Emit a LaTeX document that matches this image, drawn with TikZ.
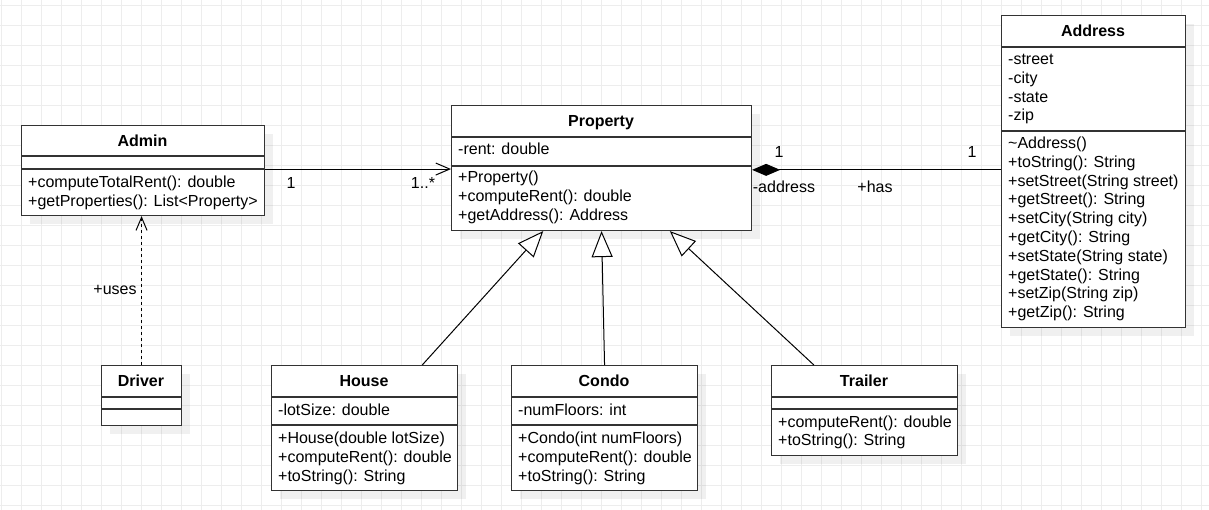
\documentclass[tikz,border=0pt]{standalone}
\usepackage{fontspec}
\setmainfont{Liberation Sans}
\usetikzlibrary{arrows.meta,shadows,calc}
\begin{document}
\begin{tikzpicture}[x=1pt,y=-1pt,
  gridline/.style={draw=black!7, line width=0.8pt},
  classbox/.style={draw=black!80, line width=1.1pt, fill=white, rectangle, inner sep=0pt, anchor=north west,
    drop shadow={shadow xshift=8pt, shadow yshift=-8pt, opacity=0.06, fill=black}},
  sepline/.style={draw=black!80, line width=1.1pt},
  title/.style={font=\fontsize{16}{19}\selectfont\bfseries, inner sep=0pt, text height=14.5pt, text depth=3.4pt},
  member/.style={font=\fontsize{16}{19}\selectfont, anchor=west, inner sep=0pt, text height=14.5pt, text depth=3.4pt},
  lbl/.style={font=\fontsize{16}{19}\selectfont, inner sep=0pt, text height=14.5pt, text depth=3.4pt},
  conn/.style={draw=black, line width=1pt},
  assoc/.style={conn, -{Straight Barb[length=14pt,width=12pt,line width=1pt]}},
  dep/.style={conn, line width=1.2pt, dash pattern=on 3pt off 3pt, -{Straight Barb[length=13pt,width=11pt,line width=1pt]}},
  inherit/.style={conn, -{Triangle[open,length=26pt,width=21pt,fill=white,line width=1pt]}},
  compos/.style={conn, {Diamond[length=28pt,width=12pt]}-}
]
\useasboundingbox (0,0) rectangle (1209,510);
\fill[white] (0,0) rectangle (1209,510);
% grid
\foreach \x in {1,21,...,1201} \draw[gridline] (\x,0) -- (\x,510);
\foreach \y in {5,25,...,505} \draw[gridline] (0,\y) -- (1209,\y);

% Admin
\node[classbox, minimum width=243pt, minimum height=90pt] (admin) at (21,125) {};
\draw[sepline] ([yshift=-31pt]admin.north west) -- ([yshift=-31pt]admin.north east);
\draw[sepline] ([yshift=-44pt]admin.north west) -- ([yshift=-44pt]admin.north east);
\node[title] (admint) at (142.5,140.5) {Admin};
\foreach \t [count=\i from 0] in {+computeTotalRent(): double, +getProperties(): List<Property>}
  \node[member] (adm\i) at (28,182+18.8*\i) {\t};

% Property
\node[classbox, minimum width=300pt, minimum height=125pt] (property) at (451,105) {};
\draw[sepline] ([yshift=-32pt]property.north west) -- ([yshift=-32pt]property.north east);
\draw[sepline] ([yshift=-61pt]property.north west) -- ([yshift=-61pt]property.north east);
\node[title] (propt) at (601,121) {Property};
\node[member] (propa0) at (458,148.5) {-rent: double};
\foreach \t [count=\i from 0] in {+Property(), +computeRent(): double, +getAddress(): Address}
  \node[member] (prop\i) at (458,177+18.8*\i) {\t};

% Address
\node[classbox, minimum width=184pt, minimum height=312pt] (address) at (1001,15) {};
\draw[sepline] ([yshift=-32pt]address.north west) -- ([yshift=-32pt]address.north east);
\draw[sepline] ([yshift=-116pt]address.north west) -- ([yshift=-116pt]address.north east);
\node[title] (addrt) at (1093,31) {Address};
\foreach \t [count=\i from 0] in {-street, -city, -state, -zip}
  \node[member] (addra\i) at (1008,59+18.8*\i) {\t};
\foreach \t [count=\i from 0] in {\textasciitilde Address(), +toString(): String, +setStreet(String street), +getStreet(): String, +setCity(String city), +getCity(): String, +setState(String state), +getState(): String, +setZip(String zip), +getZip(): String}
  \node[member] (addrm\i) at (1008,143+18.8*\i) {\t};

% Driver
\node[classbox, minimum width=80pt, minimum height=60pt] (driver) at (101,365) {};
\draw[sepline] ([yshift=-32pt]driver.north west) -- ([yshift=-32pt]driver.north east);
\draw[sepline] ([yshift=-44pt]driver.north west) -- ([yshift=-44pt]driver.north east);
\node[title] (drvt) at (141,381) {Driver};

% House
\node[classbox, minimum width=186pt, minimum height=125pt] (house) at (271,365) {};
\draw[sepline] ([yshift=-32pt]house.north west) -- ([yshift=-32pt]house.north east);
\draw[sepline] ([yshift=-60pt]house.north west) -- ([yshift=-60pt]house.north east);
\node[title] (houset) at (364,381) {House};
\node[member] (housea0) at (278,409.5) {-lotSize: double};
\foreach \t [count=\i from 0] in {+House(double lotSize), +computeRent(): double, +toString(): String}
  \node[member] (house\i) at (278,438+18.8*\i) {\t};

% Condo
\node[classbox, minimum width=186pt, minimum height=125pt] (condo) at (511,365) {};
\draw[sepline] ([yshift=-32pt]condo.north west) -- ([yshift=-32pt]condo.north east);
\draw[sepline] ([yshift=-60pt]condo.north west) -- ([yshift=-60pt]condo.north east);
\node[title] (condot) at (604,381) {Condo};
\node[member] (condoa0) at (518,409.5) {-numFloors: int};
\foreach \t [count=\i from 0] in {+Condo(int numFloors), +computeRent(): double, +toString(): String}
  \node[member] (condo\i) at (518,438+18.8*\i) {\t};

% Trailer
\node[classbox, minimum width=186pt, minimum height=90pt] (trailer) at (771,365) {};
\draw[sepline] ([yshift=-32pt]trailer.north west) -- ([yshift=-32pt]trailer.north east);
\draw[sepline] ([yshift=-44pt]trailer.north west) -- ([yshift=-44pt]trailer.north east);
\node[title] (trailert) at (864,381) {Trailer};
\foreach \t [count=\i from 0] in {+computeRent(): double, +toString(): String}
  \node[member] (trailer\i) at (778,421.5+18.8*\i) {\t};

% connectors
\draw[assoc] ([yshift=1.5pt]admin.east) -- ([yshift=1.5pt]admin.east -| property.west);
\node[lbl] (m1) at (291,183) {1};
\node[lbl] (m2) at (423,183) {1..*};

\draw[dep] (driver.north) -- (driver.north |- admin.south);
\node[lbl] (uses) at (115,289) {+uses};

\draw[inherit] ([xshift=57.7pt]house.north) -- ([xshift=-58.3pt]property.south);
\draw[inherit] (condo.north) -- (property.south);
\draw[inherit] ([xshift=-50.7pt]trailer.north) -- ([xshift=68.3pt]property.south);

\draw[compos] ([yshift=-1.8pt]property.east) -- ([yshift=-1.8pt]property.east -| address.west);
\node[lbl] (m3) at (779,152) {1};
\node[lbl] (m4) at (972,152) {1};
\node[lbl] (addrl) at (784,187) {-address};
\node[lbl] (hasl) at (875,187) {+has};
\end{tikzpicture}
\end{document}
